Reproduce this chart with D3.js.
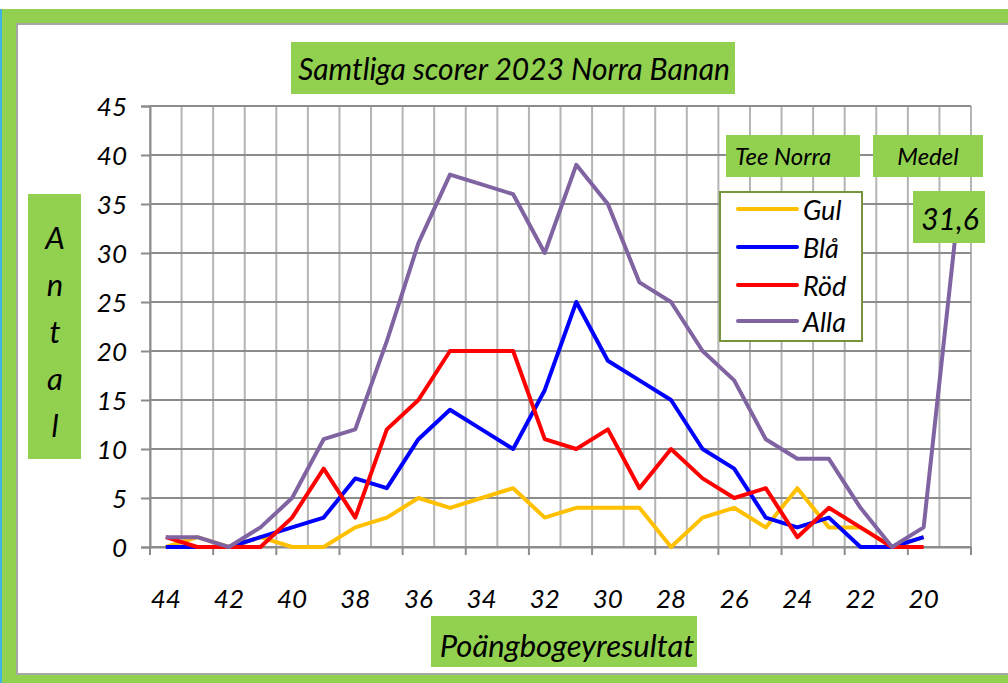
<!DOCTYPE html>
<html>
<head>
<meta charset="utf-8">
<script src="https://cdn.jsdelivr.net/npm/d3@7"></script>
<style>
  body { margin: 0; background: #fff; }
  text { font-family: Lato, "Open Sans", sans-serif; font-style: italic; fill: #000; }
</style>
</head>
<body>
<div id="canvas"></div>
<script>
// data
const categories = [44, 43, 42, 41, 40, 39, 38, 37, 36, 35, 34, 33, 32, 31, 30, 29, 28, 27, 26, 25, 24, 23, 22, 21, 20, 19];
const gul  = [0, 1, 0, 1, 0, 0, 2, 3, 5, 4, 5, 6, 3, 4, 4, 4, 0, 3, 4, 2, 6, 2, 2, 0, 1, null];
const bla  = [0, 0, 0, 1, 2, 3, 7, 6, 11, 14, 12, 10, 16, 25, 19, 17, 15, 10, 8, 3, 2, 3, 0, 0, 1, null];
const rod  = [1, 0, 0, 0, 3, 8, 3, 12, 15, 20, 20, 20, 11, 10, 12, 6, 10, 7, 5, 6, 1, 4, 2, 0, 0, null];
const alla = [1, 1, 0, 2, 5, 11, 12, 21, 31, 38, 37, 36, 30, 39, 35, 27, 25, 20, 17, 11, 9, 9, 4, 0, 2, 31.6];
const seriesNames = ["Gul", "Blå", "Röd", "Alla"];
const seriesColors = ["#ffc000", "#0000ff", "#ff0000", "#8064a2"];
const yTicks = [0, 5, 10, 15, 20, 25, 30, 35, 40, 45];
const xLabels = [44, 42, 40, 38, 36, 34, 32, 30, 28, 26, 24, 22, 20];
const medel = "31,6";

const width = 1008;
const height = 683;
const margin = { top: 106, left: 150, bottom: 136, right: 37 };
const iwidth = width - margin.left - margin.right;
const iheight = height - margin.top - margin.bottom;

const svg = d3.select("#canvas").append("svg")
    .attr("width", width)
    .attr("height", height);

// frame
svg.append("rect").attr("x", 2).attr("y", 9).attr("width", width - 2).attr("height", height - 9)
    .style("fill", "#92d050");
svg.append("rect").attr("x", 0).attr("y", 9).attr("width", 2).attr("height", height - 9)
    .style("fill", "#3cb4e6");
svg.append("rect").attr("x", 17).attr("y", 24).attr("width", width - 16).attr("height", 650)
    .style("fill", "#fff")
    .style("stroke", "#a6a6a6")
    .style("stroke-width", 2);

const g = svg.append("g").attr("transform", `translate(${margin.left},${margin.top})`);

const x = d3.scaleBand()
    .domain(categories)
    .range([0, iwidth])
    .padding(0);

const y = d3.scaleLinear()
    .domain([0, 45])
    .range([iheight, 0]);

// vertical gridlines on the band edges
g.selectAll(".vgrid")
    .data(categories.concat(["end"]))
    .enter().append("line")
    .attr("class", "vgrid")
    .attr("x1", (d, i) => i * x.bandwidth())
    .attr("x2", (d, i) => i * x.bandwidth())
    .attr("y1", 0)
    .attr("y2", iheight)
    .style("stroke", "#b4b4b4")
    .style("stroke-width", 2);

// horizontal gridlines
g.selectAll(".hgrid")
    .data(yTicks)
    .enter().append("line")
    .attr("class", "hgrid")
    .attr("x1", 0)
    .attr("x2", iwidth)
    .attr("y1", d => y(d))
    .attr("y2", d => y(d))
    .style("stroke", "#8c8c8c")
    .style("stroke-width", 2);

// y axis
const yAxis = g.append("g")
    .classed("y--axis", true)
    .call(d3.axisLeft(y).tickValues(yTicks).tickSize(9).tickPadding(14));
yAxis.select(".domain").style("stroke", "#8c8c8c").style("stroke-width", 2);
yAxis.selectAll(".tick line").style("stroke", "#8c8c8c").style("stroke-width", 2);
yAxis.selectAll("text")
    .style("font-family", "Lato, sans-serif")
    .style("font-style", "italic")
    .style("font-size", "26px")
    .attr("dy", "0.36em");

// x axis
const xAxis = g.append("g")
    .classed("x--axis", true)
    .attr("transform", `translate(0, ${iheight})`)
    .call(d3.axisBottom(x)
        .tickFormat(d => xLabels.includes(d) ? d : "")
        .tickSize(0)
        .tickPadding(61));
xAxis.select(".domain").style("stroke", "#8c8c8c").style("stroke-width", 2);
xAxis.selectAll("text")
    .style("font-family", "Lato, sans-serif")
    .style("font-style", "italic")
    .style("font-size", "26px")
    .attr("dy", "0");

// x tick marks every second band edge
g.selectAll(".xtick")
    .data(categories.concat(["end"]).filter((d, i) => i % 2 === 0))
    .enter().append("line")
    .attr("class", "xtick")
    .attr("x1", (d, i) => i * 2 * x.bandwidth())
    .attr("x2", (d, i) => i * 2 * x.bandwidth())
    .attr("y1", iheight)
    .attr("y2", iheight + 8)
    .style("stroke", "#8c8c8c")
    .style("stroke-width", 2);

// lines
const allSeries = [gul, bla, rod, alla];
const line = d3.line()
    .defined(d => d.v !== null)
    .x(d => x(d.c) + x.bandwidth() / 2)
    .y(d => y(d.v));

allSeries.forEach((s, k) => {
    g.append("path")
        .datum(categories.map((c, i) => ({ c: c, v: s[i] })))
        .attr("d", line)
        .style("fill", "none")
        .style("stroke", seriesColors[k])
        .style("stroke-width", 4)
        .style("stroke-linejoin", "round");
});

// title
svg.append("rect").attr("x", 291).attr("y", 42).attr("width", 444).attr("height", 52)
    .style("fill", "#92d050");
svg.append("text").attr("x", 514).attr("y", 80)
    .attr("text-anchor", "middle")
    .style("font-size", "30px")
    .text("Samtliga scorer 2023 Norra Banan");

// y title, stacked letters
svg.append("rect").attr("x", 28).attr("y", 194).attr("width", 53).attr("height", 265)
    .style("fill", "#92d050");
svg.selectAll(".ylet")
    .data("Antal".split(""))
    .enter().append("text")
    .attr("class", "ylet")
    .attr("x", 55)
    .attr("y", (d, i) => 249 + i * 47)
    .attr("text-anchor", "middle")
    .style("font-size", "31px")
    .text(d => d);

// x title
svg.append("rect").attr("x", 431).attr("y", 616).attr("width", 266).attr("height", 51)
    .style("fill", "#92d050");
svg.append("text").attr("x", 567).attr("y", 657)
    .attr("text-anchor", "middle")
    .style("font-size", "31px")
    .text("Poängbogeyresultat");

// legend
svg.append("rect").attr("x", 720).attr("y", 192).attr("width", 142).attr("height", 149)
    .style("fill", "#fff")
    .style("stroke", "#77933c")
    .style("stroke-width", 2);
const legendY = [209, 247, 285, 321];
seriesNames.forEach((name, k) => {
    svg.append("line")
        .attr("x1", 738).attr("x2", 797)
        .attr("y1", legendY[k]).attr("y2", legendY[k])
        .style("stroke", seriesColors[k])
        .style("stroke-width", 4)
        .style("stroke-linecap", "round");
    svg.append("text")
        .attr("x", 803).attr("y", legendY[k] + 11)
        .style("font-size", "27px")
        .text(name);
});

// Tee Norra / Medel boxes
svg.append("rect").attr("x", 726).attr("y", 135).attr("width", 134).attr("height", 42)
    .style("fill", "#92d050");
svg.append("text").attr("x", 735).attr("y", 165)
    .style("font-size", "24px")
    .text("Tee Norra");
svg.append("rect").attr("x", 873).attr("y", 135).attr("width", 110).attr("height", 42)
    .style("fill", "#92d050");
svg.append("text").attr("x", 928).attr("y", 165)
    .attr("text-anchor", "middle")
    .style("font-size", "24px")
    .text("Medel");

// data label on the last Alla point
svg.append("rect").attr("x", 913).attr("y", 191).attr("width", 72).attr("height", 52)
    .style("fill", "#92d050");
svg.append("text").attr("x", 950).attr("y", 230)
    .attr("text-anchor", "middle")
    .style("font-size", "30px")
    .text(medel);
</script>
</body>
</html>
